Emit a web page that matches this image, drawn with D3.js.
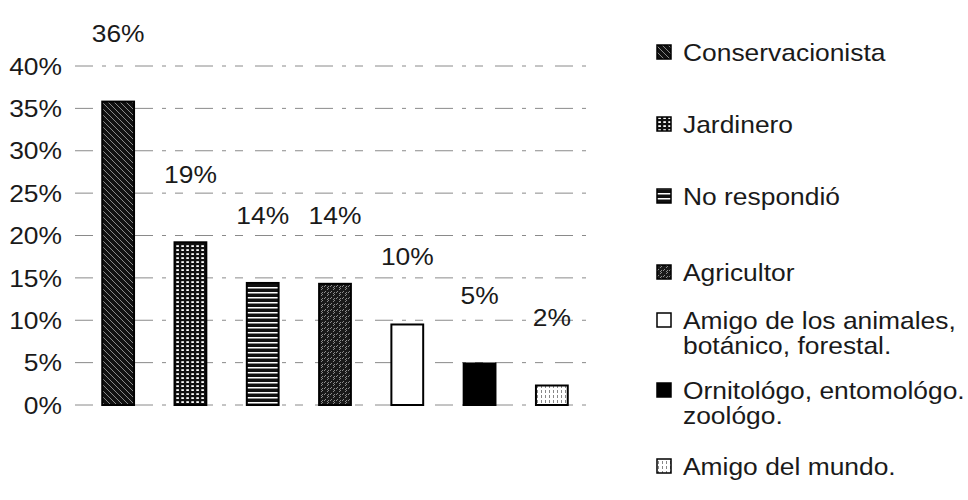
<!DOCTYPE html>
<html>
<head>
<meta charset="utf-8">
<script src="https://cdn.jsdelivr.net/npm/d3@7/dist/d3.min.js"></script>
<style>
  html, body { margin: 0; padding: 0; background: #fff; }
  svg { display: block; }
  text { font-family: "Liberation Sans", Arial, sans-serif; fill: #1a1a1a; }
</style>
</head>
<body>
<svg id="chart" width="968" height="500"></svg>
<script>
// ---- data ----
const categories = ["Conservacionista", "Jardinero", "No respondió", "Agricultor",
  "Amigo de los animales, botánico, forestal.", "Ornitológo, entomológo. zoológo.", "Amigo del mundo."];
const legendLines = [["Conservacionista"], ["Jardinero"], ["No respondió"], ["Agricultor"],
  ["Amigo de los animales,", "botánico, forestal."], ["Ornitológo, entomológo.", "zoológo."], ["Amigo del mundo."]];
const values = [0.358, 0.192, 0.144, 0.143, 0.095, 0.049, 0.023];
const valueLabels = ["36%", "19%", "14%", "14%", "10%", "5%", "2%"];
const yTicks = [0, 0.05, 0.10, 0.15, 0.20, 0.25, 0.30, 0.35, 0.40];
const fills = ["url(#pDiag)", "url(#pBrick)", "url(#pHoriz)", "url(#pSpeck)", "#fff", "#000", "url(#pLight)"];

// ---- layout ----
const svg = d3.select("#chart");
const FS = 24, SX = 1.1;
const y = d3.scaleLinear().domain([0, 0.40]).range([405, 66]);
const x = d3.scaleBand().domain(categories).range([82, 588]).paddingInner(0.56).paddingOuter(0.28);

// patterns
const defs = svg.append("defs");
let p = defs.append("pattern").attr("id", "pDiag").attr("patternUnits", "userSpaceOnUse").attr("width", 6).attr("height", 6);
p.append("rect").attr("width", 6).attr("height", 6).attr("fill", "#111");
p.append("path").attr("d", "M0,0 L6,6 M-1,5 L1,7 M5,-1 L7,1").attr("stroke", "#bbb").attr("stroke-width", 0.7);

p = defs.append("pattern").attr("id", "pBrick").attr("patternUnits", "userSpaceOnUse").attr("width", 5).attr("height", 4);
p.append("rect").attr("width", 5).attr("height", 4).attr("fill", "#111");
p.append("rect").attr("x", 1.3).attr("y", 1.2).attr("width", 2.6).attr("height", 1.8).attr("fill", "#fff");

p = defs.append("pattern").attr("id", "pHoriz").attr("patternUnits", "userSpaceOnUse").attr("width", 6).attr("height", 5);
p.append("rect").attr("width", 6).attr("height", 5).attr("fill", "#111");
p.append("rect").attr("y", 2).attr("width", 6).attr("height", 1.5).attr("fill", "#fff");

p = defs.append("pattern").attr("id", "pSpeck").attr("patternUnits", "userSpaceOnUse").attr("width", 6).attr("height", 6);
p.append("rect").attr("width", 6).attr("height", 6).attr("fill", "#1a1a1a");
p.append("path").attr("d", "M0,5 L2,3 M3,2 L5,0 M3,6 L5,4").attr("stroke", "#aaa").attr("stroke-width", 0.8);

p = defs.append("pattern").attr("id", "pLight").attr("patternUnits", "userSpaceOnUse").attr("width", 4).attr("height", 5);
p.append("rect").attr("width", 4).attr("height", 5).attr("fill", "#fff");
p.append("rect").attr("x", 1).attr("y", 0).attr("width", 1).attr("height", 3).attr("fill", "#888");

// gridlines
svg.append("g").selectAll("line").data(yTicks).join("line")
  .attr("x1", 75).attr("x2", 590)
  .attr("y1", d => y(d)).attr("y2", d => y(d))
  .attr("stroke", "#8a8a8a").attr("stroke-width", 1)
  .attr("stroke-dasharray", "18,9,4,9,8,12");

// y axis labels
svg.append("g").selectAll("text").data(yTicks).join("text")
  .attr("transform", d => `translate(62,${y(d)}) scale(${SX},1)`)
  .attr("text-anchor", "end").attr("dy", "0.36em")
  .attr("font-size", FS)
  .text(d => d3.format(".0%")(d));

// bars
svg.append("g").selectAll("rect").data(categories).join("rect")
  .attr("x", d => x(d)).attr("width", x.bandwidth())
  .attr("y", (d, i) => y(values[i]))
  .attr("height", (d, i) => y(0) - y(values[i]))
  .attr("fill", (d, i) => fills[i])
  .attr("stroke", "#000").attr("stroke-width", 2);

// value labels
svg.append("g").selectAll("text").data(categories).join("text")
  .attr("transform", (d, i) => `translate(${x(d) + x.bandwidth() / 2},${y(values[i]) - 68}) scale(${SX},1)`)
  .attr("text-anchor", "middle").attr("dy", "0.36em")
  .attr("font-size", FS)
  .text((d, i) => valueLabels[i]);

// legend
const legendY = [52, 124, 196, 272, 320, 390, 466];
const lineH = 25;
const lg = svg.append("g").selectAll("g").data(categories).join("g")
  .attr("transform", (d, i) => `translate(657,${legendY[i]})`);
lg.append("rect").attr("x", 0).attr("y", -7).attr("width", 14).attr("height", 14)
  .attr("fill", (d, i) => fills[i]).attr("stroke", "#000").attr("stroke-width", 1.5);
lg.each(function (d, i) {
  d3.select(this).selectAll("text").data(legendLines[i]).join("text")
    .attr("transform", (t, j) => `translate(26,${j * lineH}) scale(${SX},1)`)
    .attr("dy", "0.36em").attr("font-size", FS)
    .text(t => t);
});
</script>
</body>
</html>
